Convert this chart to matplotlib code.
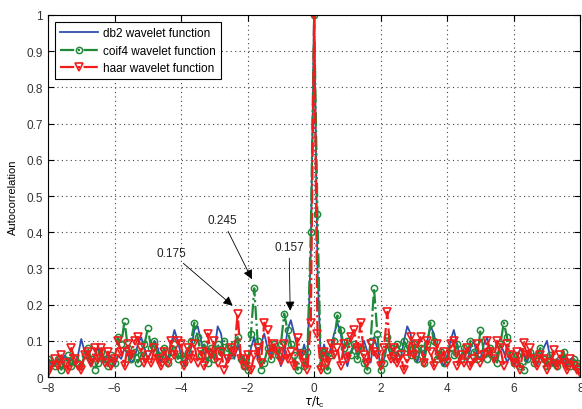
import numpy as np
import matplotlib
matplotlib.use('Agg')
import matplotlib.pyplot as plt

plt.rcParams['font.family'] = ['Liberation Sans', 'DejaVu Sans']

# sample grid of tau/tc, -8 .. 8 in steps of 0.1
tau = np.round(np.linspace(-8, 8, 161), 2)

db2 = [0.03, 0.04, 0.03, 0.05, 0.04, 0.06, 0.04, 0.05, 0.03, 0.06,
       0.105, 0.07, 0.05, 0.03, 0.06, 0.08, 0.06, 0.04, 0.07, 0.05,
       0.03, 0.06, 0.05, 0.08, 0.06, 0.04, 0.05, 0.09, 0.11, 0.08,
       0.05, 0.07, 0.10, 0.08, 0.04, 0.07, 0.05, 0.09, 0.13, 0.10,
       0.06, 0.03, 0.05, 0.08, 0.13, 0.14, 0.10, 0.06, 0.08, 0.05,
       0.07, 0.14, 0.12, 0.06, 0.04, 0.07, 0.05, 0.09, 0.06, 0.04,
       0.03, 0.08, 0.11, 0.05, 0.09, 0.12, 0.08, 0.06, 0.09, 0.07,
       0.03, 0.06, 0.13, 0.157, 0.12, 0.08, 0.05, 0.09, 0.05, 0.35,
       1.0, 0.30, 0.05, 0.09, 0.05, 0.08, 0.12, 0.15, 0.12, 0.06,
       0.03, 0.07, 0.09, 0.06, 0.08, 0.10, 0.07, 0.04, 0.11, 0.08,
       0.03, 0.05, 0.09, 0.06, 0.04, 0.07, 0.05, 0.10, 0.14, 0.12,
       0.06, 0.04, 0.08, 0.06, 0.10, 0.14, 0.12, 0.07, 0.05, 0.03,
       0.06, 0.10, 0.13, 0.09, 0.05, 0.07, 0.04, 0.08, 0.10, 0.06,
       0.05, 0.09, 0.11, 0.07, 0.04, 0.06, 0.09, 0.07, 0.04, 0.06,
       0.03, 0.05, 0.08, 0.06, 0.04, 0.07, 0.05, 0.03, 0.06, 0.08,
       0.10, 0.05, 0.03, 0.05, 0.04, 0.06, 0.03, 0.05, 0.04, 0.02,
       0.01]

coif4 = [0.05, 0.04, 0.03, 0.05, 0.02, 0.04, 0.06, 0.03, 0.05, 0.04,
         0.03, 0.06, 0.08, 0.05, 0.02, 0.04, 0.07, 0.05, 0.03, 0.06,
         0.04, 0.11, 0.09, 0.155, 0.08, 0.05, 0.07, 0.04, 0.06, 0.09,
         0.135, 0.08, 0.10, 0.06, 0.05, 0.08, 0.04, 0.07, 0.09, 0.05,
         0.06, 0.04, 0.07, 0.10, 0.15, 0.11, 0.06, 0.09, 0.04, 0.08,
         0.05, 0.09, 0.07, 0.10, 0.08, 0.06, 0.09, 0.11, 0.05, 0.03,
         0.02, 0.12, 0.245, 0.10, 0.02, 0.04, 0.08, 0.05, 0.09, 0.06,
         0.09, 0.175, 0.13, 0.09, 0.06, 0.02, 0.07, 0.03, 0.07, 0.40,
         1.0, 0.45, 0.03, 0.07, 0.02, 0.06, 0.10, 0.17, 0.13, 0.08,
         0.10, 0.06, 0.09, 0.05, 0.08, 0.04, 0.02, 0.10, 0.245, 0.12,
         0.02, 0.04, 0.11, 0.08, 0.06, 0.09, 0.07, 0.10, 0.08, 0.06,
         0.09, 0.05, 0.08, 0.04, 0.09, 0.15, 0.10, 0.05, 0.07, 0.04,
         0.05, 0.08, 0.06, 0.09, 0.05, 0.08, 0.06, 0.10, 0.07, 0.05,
         0.13, 0.07, 0.05, 0.08, 0.06, 0.04, 0.09, 0.15, 0.11, 0.06,
         0.04, 0.06, 0.03, 0.02, 0.05, 0.07, 0.04, 0.06, 0.08, 0.05,
         0.03, 0.06, 0.04, 0.03, 0.05, 0.07, 0.04, 0.03, 0.05, 0.04,
         0.03]

haar = [0.01, 0.03, 0.05, 0.03, 0.06, 0.04, 0.02, 0.08, 0.05, 0.03,
        0.02, 0.06, 0.07, 0.04, 0.08, 0.05, 0.08, 0.04, 0.07, 0.03,
        0.05, 0.10, 0.07, 0.03, 0.09, 0.06, 0.10, 0.11, 0.08, 0.04,
        0.06, 0.04, 0.08, 0.05, 0.03, 0.07, 0.04, 0.10, 0.06, 0.10,
        0.09, 0.03, 0.08, 0.05, 0.09, 0.04, 0.07, 0.03, 0.12, 0.06,
        0.10, 0.04, 0.07, 0.02, 0.05, 0.08, 0.07, 0.175, 0.05, 0.03,
        0.06, 0.02, 0.06, 0.08, 0.04, 0.15, 0.13, 0.06, 0.09, 0.07,
        0.045, 0.09, 0.05, 0.07, 0.03, 0.107, 0.06, 0.04, 0.02, 0.15,
        1.0, 0.12, 0.02, 0.07, 0.04, 0.09, 0.06, 0.08, 0.03, 0.09,
        0.05, 0.11, 0.13, 0.08, 0.15, 0.06, 0.04, 0.09, 0.07, 0.06,
        0.03, 0.08, 0.18, 0.05, 0.08, 0.04, 0.06, 0.02, 0.05, 0.11,
        0.06, 0.09, 0.11, 0.04, 0.10, 0.07, 0.03, 0.09, 0.05, 0.07,
        0.04, 0.09, 0.10, 0.03, 0.06, 0.04, 0.08, 0.03, 0.05, 0.09,
        0.04, 0.06, 0.10, 0.07, 0.05, 0.10, 0.08, 0.03, 0.09, 0.06,
        0.04, 0.07, 0.02, 0.095, 0.06, 0.08, 0.05, 0.03, 0.06, 0.05,
        0.02, 0.04, 0.075, 0.03, 0.06, 0.04, 0.02, 0.05, 0.03, 0.02,
        0.01]

labels = ['db2 wavelet function', 'coif4 wavelet function', 'haar wavelet function']

# annotations: text, text position, arrow tip
notes = [('0.175', (-4.75, 0.335), (-2.45, 0.197)),
         ('0.245', (-3.2, 0.425), (-1.87, 0.27)),
         ('0.157', (-1.2, 0.352), (-0.72, 0.183))]

fig = plt.figure(figsize=(5.82, 4.10), dpi=100)
ax = fig.add_axes([0.0825, 0.078, 0.9145, 0.883])

ax.plot(tau, db2, color='#2f4fb0', lw=1.3, label=labels[0])
ax.plot(tau, coif4, color='#1e8a3a', lw=1.6, ls='-.', marker='o', ms=4.5,
        mfc='none', mew=1.1, label=labels[1])
ax.plot(tau, haar, color='#f21c1c', lw=1.6, ls='-.', marker='v', ms=6,
        mfc='none', mew=1.2, label=labels[2])

for txt, xy_text, xy_tip in notes:
    ax.annotate(txt, xy=xy_tip, xytext=xy_text, fontsize=8.5, color='#222222',
                arrowprops=dict(arrowstyle='-|>', color='black', lw=0.6,
                                mutation_scale=14, shrinkA=2, shrinkB=0))

ax.set_xlim(-8, 8)
ax.set_ylim(0, 1)
ax.set_xticks(np.arange(-8, 9, 2))
ax.set_yticks(np.arange(0, 1.01, 0.1))
ax.set_yticklabels(['0', '0.1', '0.2', '0.3', '0.4', '0.5', '0.6', '0.7', '0.8', '0.9', '1'])
ax.tick_params(direction='in', labelsize=8.5, length=4, labelcolor='#333333')
ax.tick_params(top=True, right=True)
ax.grid(True, ls=(0, (1, 3)), color='#444444', lw=0.8)
for s in ax.spines.values():
    s.set_linewidth(0.8)

ax.set_xlabel(r'$\tau/\mathregular{t_c}$', fontsize=8.5, labelpad=0)
ax.set_ylabel('Autocorrelation', fontsize=8, labelpad=6)

leg = ax.legend(loc='upper left', fontsize=8.5, handlelength=3.2, fancybox=False,
                framealpha=1, edgecolor='black', borderaxespad=0.6,
                borderpad=0.45, labelspacing=0.45, handletextpad=0.4)
leg.get_frame().set_linewidth(0.8)

fig.savefig('out.png', dpi=100)
